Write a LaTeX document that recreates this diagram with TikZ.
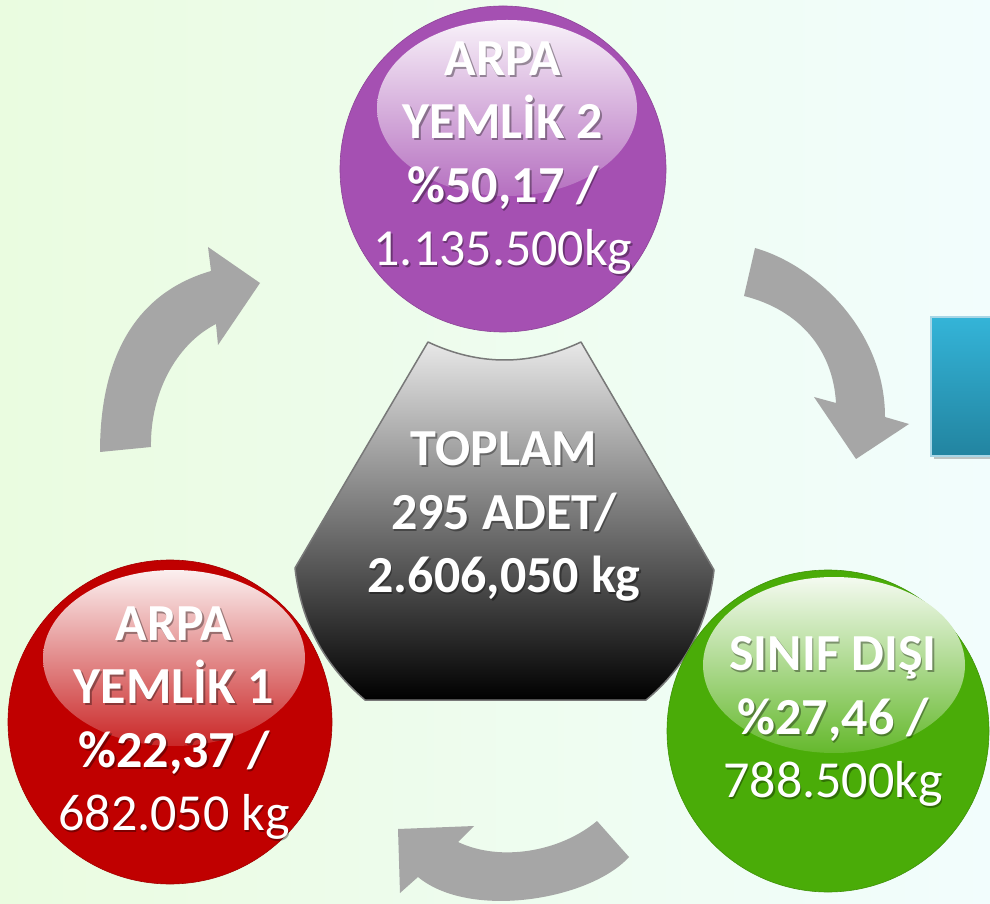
\documentclass[tikz,border=0pt]{standalone}
\usepackage{fontspec}
\setmainfont{Carlito}
\begin{document}
\begin{tikzpicture}[x=1pt,y=1pt,
  labelText/.style={text=white,align=center,anchor=north,inner sep=0pt,outer sep=0pt,
    font=\bfseries\fontsize{52}{63.5}\selectfont},
  labelShadow/.style={labelText,text=black,text opacity=0.35},
  cycleArrow/.style={fill=arrowFill}]
\definecolor{bgLeft}{RGB}{234,252,224}
\definecolor{bgRight}{RGB}{242,253,253}
\definecolor{arrowFill}{RGB}{166,166,166}
\definecolor{purpleFill}{RGB}{165,80,178}
\definecolor{redFill}{RGB}{192,0,0}
\definecolor{greenFill}{RGB}{74,172,8}
\definecolor{hexTop}{RGB}{232,232,232}
\definecolor{hexLine}{RGB}{120,120,120}
\definecolor{blueTop}{RGB}{52,180,216}
\definecolor{blueBottom}{RGB}{34,132,160}
\definecolor{blueLine}{RGB}{168,214,230}
\path[use as bounding box] (0,0) rectangle (990,903);
\begin{scope}
\path[clip] (0,0) rectangle (990,903);
\shade[left color=bgLeft,right color=bgRight] (0,0) rectangle (990,903);

% cycle arrows
\path[cycleArrow] (100,451) .. controls (100,545) and (135,610) .. (211,632) --
	(208,656) -- (260,620) -- (218,558) -- (216,579) ..
	controls (175,558) and (150,508) .. (151,456) -- cycle;
\path[cycleArrow] (755,655) .. controls (815,638) and (885,573) .. (885,486) --
	(909,479) -- (856,444) -- (814,506) -- (836,500) ..
	controls (833,553) and (800,593) .. (744,607) -- cycle;
\path[cycleArrow] (597,82) -- (629,46) .. controls (590,3) and (470,-17) .. (418,26) --
	(400,10) -- (398,74) -- (474,77) -- (458,61) ..
	controls (500,41) and (560,51) .. (597,82) -- cycle;

% box at the right edge
\path[fill=black,fill opacity=0.22] (934,444) rectangle (996,583);
\path[top color=blueTop,bottom color=blueBottom,draw=blueLine,line width=1.5pt] (931,447) rectangle (995,586);

% total in the middle
\path[top color=hexTop,bottom color=black,draw=hexLine,line width=1.5pt,line join=round]
	(428,561) .. controls (479,537) and (530,537) .. (581,561) --
	(714,333) .. controls (708,279) and (685,235) .. (646,203) --
	(365,203) .. controls (324,238) and (301,281) .. (295,335) -- cycle;

% circles
\path[fill=purpleFill,draw=purpleFill!85!black,line width=0.6pt] (503,734) circle (163);
\path[top color=white!92!purpleFill,bottom color=white!18!purpleFill] (507,795) ellipse (130 and 88);
\path[fill=redFill,draw=redFill!85!black,line width=0.6pt] (170,181) circle (162);
\path[top color=white!94!redFill,bottom color=white!15!redFill] (174,245) ellipse (131 and 88);
\path[fill=greenFill,draw=greenFill!85!black,line width=0.6pt] (828,172) circle (161);
\path[top color=white!94!greenFill,bottom color=white!15!greenFill] (834,238) ellipse (131 and 88);

% labels, each with its soft shadow
\node[labelShadow] (totalShadow) at (505.5,469.5) {TOPLAM\\295 ADET/\\2.606,050 kg};
\node[labelText] (total) at (504,471.5) {TOPLAM\\295 ADET/\\2.606,050 kg};
\node[labelShadow] (feedTwoShadow) at (504.5,859.5) {ARPA\\YEMLİK 2\\\%50,17 /\\{\mdseries 1.135.500kg}};
\node[labelText] (feedTwo) at (503,861.5) {ARPA\\YEMLİK 2\\\%50,17 /\\{\mdseries 1.135.500kg}};
\node[labelShadow] (feedOneShadow) at (175.5,294.5) {ARPA\\YEMLİK 1\\\%22,37 /\\{\mdseries 682.050 kg}};
\node[labelText] (feedOne) at (174,296.5) {ARPA\\YEMLİK 1\\\%22,37 /\\{\mdseries 682.050 kg}};
\node[labelShadow] (offGradeShadow) at (834.5,264.5) {SINIF DIŞI\\\%27,46 /\\{\mdseries 788.500kg}};
\node[labelText] (offGrade) at (833,266.5) {SINIF DIŞI\\\%27,46 /\\{\mdseries 788.500kg}};
\end{scope}
\end{tikzpicture}
\end{document}
